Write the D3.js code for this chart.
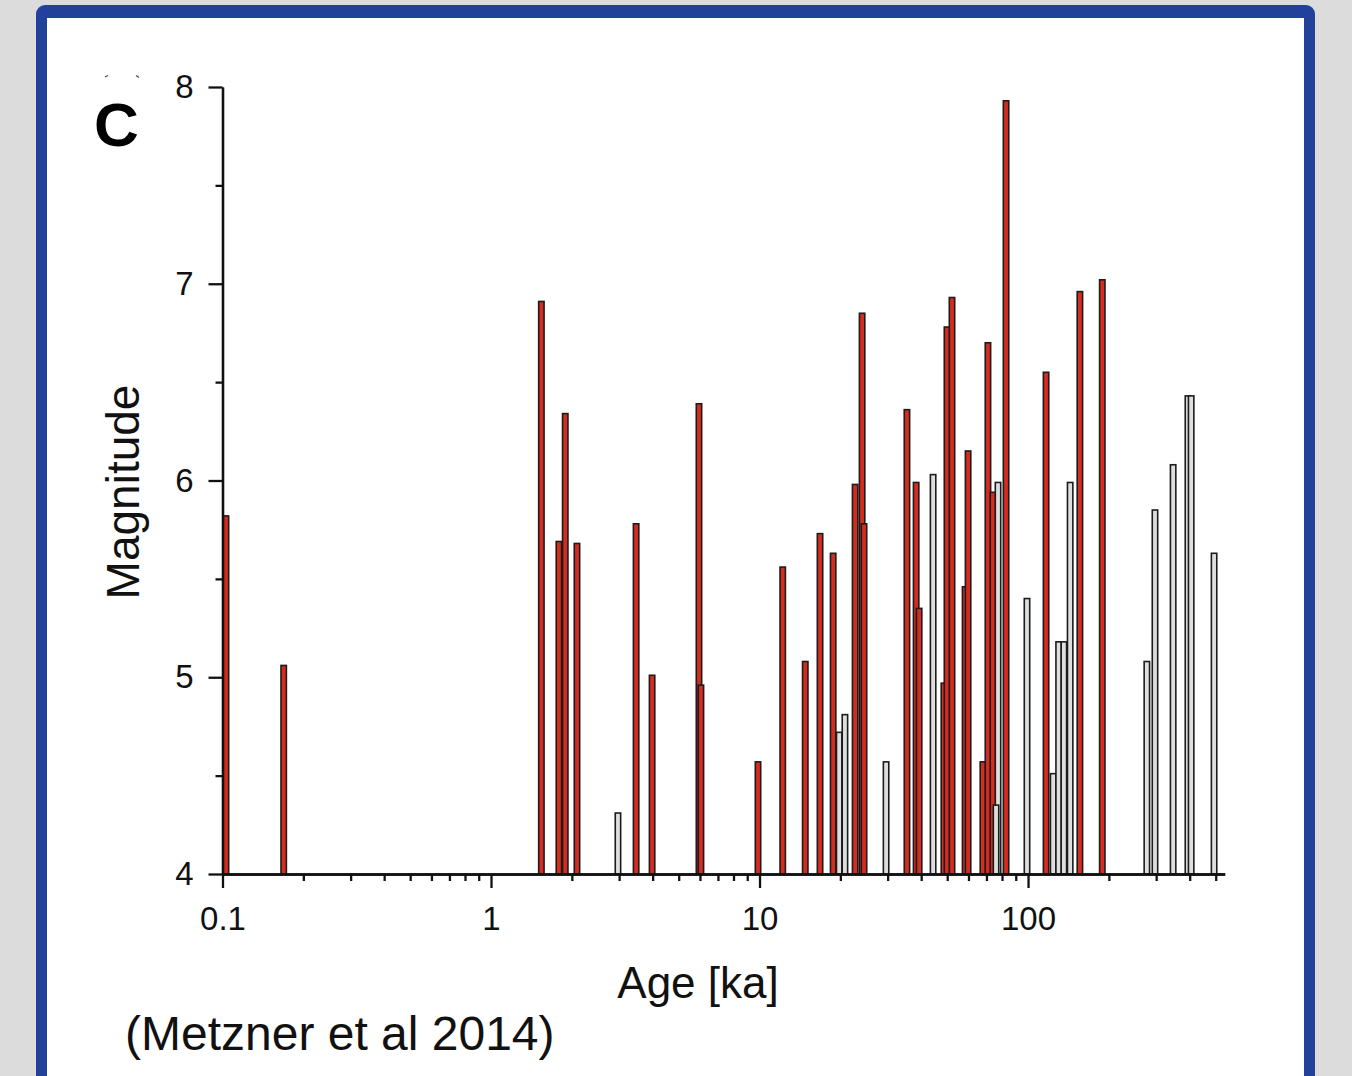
<!DOCTYPE html>
<html>
<head>
<meta charset="utf-8">
<script src="https://cdn.jsdelivr.net/npm/d3@7"></script>
<style>
body { margin: 0; background: #dcdcdc; }
svg { display: block; }
</style>
</head>
<body>
<svg id="chart" width="1352" height="1076"></svg>
<script>
"use strict";

// age in ka, magnitude, group (a = red, b = grey)
const ages = [0.103, 0.169, 1.54, 1.79, 1.89, 2.09, 2.97, 3.47, 3.98, 5.95, 6.05,
    9.87, 12.2, 14.8, 16.8, 18.8, 19.8, 20.8, 22.7, 24.1, 24.5, 29.6,
    35.4, 38.3, 39.3, 44.3, 48.6, 49.9, 52.1, 58.3, 59.8, 67.9, 70.9, 74.0,
    77.3, 76.0, 82.8, 99.1, 116.7, 124, 130, 136, 143.5, 156, 189,
    277, 297, 347, 394, 405, 493];
const magnitudes = [5.82, 5.06, 6.91, 5.69, 6.34, 5.68, 4.31, 5.78, 5.01, 6.39, 4.96,
    4.57, 5.56, 5.08, 5.73, 5.63, 4.72, 4.81, 5.98, 6.85, 5.78, 4.57,
    6.36, 5.99, 5.35, 6.03, 4.97, 6.78, 6.93, 5.46, 6.15, 4.57, 6.70, 5.94,
    5.99, 4.35, 7.93, 5.40, 6.55, 4.51, 5.18, 5.18, 5.99, 6.96, 7.02,
    5.08, 5.85, 6.08, 6.43, 6.43, 5.63];
const groups = ["a", "a", "a", "a", "a", "a", "b", "a", "a", "a", "a",
    "a", "a", "a", "a", "a", "b", "b", "a", "a", "a", "b",
    "a", "a", "a", "b", "a", "a", "a", "a", "a", "a", "a", "a",
    "b", "b", "a", "b", "a", "b", "b", "b", "b", "a", "a",
    "b", "b", "b", "b", "b", "b"];

const xMajorTicks = [0.1, 1, 10, 100];
const xTickLabels = ["0.1", "1", "10", "100"];
const yMajorTicks = [4, 5, 6, 7, 8];
const yMinorTicks = [4.5, 5.5, 6.5, 7.5];

const fillColor = { a: "#d62b1f", b: "#dedede" };
const fontFamily = "'Liberation Sans', Arial, Helvetica, sans-serif";

var svg = d3.select("#chart");

// panel frame
svg.append("rect")
    .attr("x", 36).attr("y", 5)
    .attr("width", 1279).attr("height", 1120)
    .attr("rx", 9)
    .attr("fill", "#22419a");
svg.append("rect")
    .attr("x", 47).attr("y", 18)
    .attr("width", 1257).attr("height", 1100)
    .attr("fill", "#ffffff");

var xScale = d3.scaleLog()
    .domain([0.1, 540])
    .range([222.5, 1224.7]);
var yScale = d3.scaleLinear()
    .domain([4, 8])
    .range([874, 87]);

var data = ages.map((a, i) => ({ age: a, mag: magnitudes[i], group: groups[i] }));

// bars
const barW = 5.4;
svg.append("g")
    .selectAll("rect")
    .data(data)
    .join("rect")
    .attr("x", d => xScale(d.age) - barW / 2)
    .attr("y", d => yScale(d.mag))
    .attr("width", barW)
    .attr("height", d => yScale(4) - yScale(d.mag))
    .attr("fill", d => fillColor[d.group])
    .attr("stroke", "#1c1c1c")
    .attr("stroke-width", 1.6);

// minor x ticks
var xMinorTicks = [];
[0.1, 1, 10, 100].forEach(function(dec) {
    for (let k = 2; k <= 9; k++) {
        if (dec * k <= 540) xMinorTicks.push(dec * k);
    }
});

function styleAxis(g) {
    g.selectAll("path, line").attr("stroke", "#111").attr("stroke-width", 2.3);
    g.selectAll("text")
        .attr("fill", "#111")
        .attr("font-family", fontFamily)
        .attr("font-size", 33);
}

svg.append("g")
    .attr("transform", "translate(0,874)")
    .call(d3.axisBottom(xScale).tickValues(xMinorTicks).tickSize(7).tickSizeOuter(0).tickFormat(""))
    .call(styleAxis);
svg.append("g")
    .attr("transform", "translate(0,874)")
    .call(d3.axisBottom(xScale).tickValues(xMajorTicks).tickSize(14).tickSizeOuter(0)
        .tickPadding(19).tickFormat((d, i) => xTickLabels[i]))
    .call(styleAxis);

svg.append("g")
    .attr("transform", "translate(222.5,0)")
    .call(d3.axisLeft(yScale).tickValues(yMinorTicks).tickSize(7).tickSizeOuter(0).tickFormat(""))
    .call(styleAxis);
svg.append("g")
    .attr("transform", "translate(222.5,0)")
    .call(d3.axisLeft(yScale).tickValues(yMajorTicks).tickSize(14).tickSizeOuter(0)
        .tickPadding(15).tickFormat(d3.format("d")))
    .call(styleAxis);

// labels
svg.append("text")
    .attr("x", 698).attr("y", 998)
    .attr("text-anchor", "middle")
    .attr("font-family", fontFamily)
    .attr("font-size", 44)
    .attr("fill", "#111")
    .text("Age [ka]");

svg.append("text")
    .attr("transform", "translate(139,492) rotate(-90)")
    .attr("text-anchor", "middle")
    .attr("font-family", fontFamily)
    .attr("font-size", 46)
    .attr("fill", "#111")
    .text("Magnitude");

svg.append("text")
    .attr("x", 94).attr("y", 146)
    .attr("font-family", fontFamily)
    .attr("font-size", 62)
    .attr("font-weight", "bold")
    .attr("fill", "#000")
    .text("C");

// tiny marks above the panel letter
svg.append("path")
    .attr("d", "M105,77 L108,75.5 M136,75.5 L139,77.5")
    .attr("stroke", "#444").attr("stroke-width", 1.2);

svg.append("text")
    .attr("x", 125).attr("y", 1050)
    .attr("font-family", fontFamily)
    .attr("font-size", 48)
    .attr("fill", "#111")
    .text("(Metzner et al 2014)");
</script>
</body>
</html>
